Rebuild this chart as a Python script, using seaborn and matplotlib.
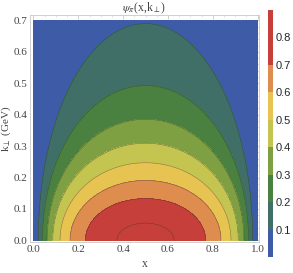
import matplotlib
matplotlib.use("Agg")
import matplotlib.pyplot as plt
import numpy as np
import seaborn as sns
from matplotlib.colors import ListedColormap, BoundaryNorm
from matplotlib.cm import ScalarMappable
from matplotlib.ticker import MultipleLocator

# pion wave function psi(x, k) = A u^p / (1 + (k^2 + m^2) / (beta^2 u))^n,  u = x(1-x)
# parameters matched to the contour positions of the reference
A_norm = 1.3544
p_pow = -0.0129
n_pow = 1.5006
m_sq = 0.045
beta_sq = 0.4394

levels = [0.1, 0.2, 0.3, 0.4, 0.5, 0.6, 0.7, 0.8]
band_colors = ["#3d5ba6", "#3f6f66", "#4a8040", "#7ea043", "#c3c550",
               "#e7c451", "#df8d4f", "#c73f3b", "#c73f3b"]
bar_range = [0.02, 0.9]
x_ticks = [0.0, 0.2, 0.4, 0.6, 0.8, 1.0]
k_ticks = [0.0, 0.1, 0.2, 0.3, 0.4, 0.5, 0.6, 0.7]


def psi_pi(x, k):
    u = x * (1 - x)
    return A_norm * u ** p_pow / (1 + (k ** 2 + m_sq) / (beta_sq * u)) ** n_pow


x = np.linspace(1e-4, 1 - 1e-4, 400)
k = np.linspace(0, 0.7, 300)
XX, KK = np.meshgrid(x, k)
psi = psi_pi(XX, KK)

sns.set_style("white")
plt.rcParams["mathtext.fontset"] = "stix"
serif = ["Liberation Serif", "DejaVu Serif"]
sans = ["Liberation Sans", "DejaVu Sans"]

fig = plt.figure(figsize=(2.93, 2.73), dpi=100)
ax = fig.add_axes([0.1024, 0.1136, 0.7816, 0.8315])
cax = fig.add_axes([0.9147, 0.0586, 0.017, 0.905])

ax.contourf(XX, KK, psi, levels=[0.0] + levels + [1.0], colors=band_colors)
ax.contour(XX, KK, psi, levels=levels, colors="#303030", linewidths=0.4, alpha=0.55)

ax.set_xlim(-0.0156, 1.0067)
ax.set_ylim(-0.005, 0.7175)
ax.set_xticks(x_ticks)
ax.set_yticks(k_ticks)
ax.xaxis.set_minor_locator(MultipleLocator(0.05))
ax.yaxis.set_minor_locator(MultipleLocator(0.02))
ax.set_xticklabels([f"{v:.1f}" for v in x_ticks], family=serif, fontsize=8, color="#444444")
ax.set_yticklabels([f"{v:.1f}" for v in k_ticks], family=serif, fontsize=8, color="#444444")
ax.tick_params(which="major", direction="in", length=3, width=0.5, color="#bbbbbb",
               top=True, right=True, pad=2)
ax.tick_params(which="minor", direction="in", length=1.5, width=0.4, color="#cccccc",
               top=True, right=True)
for s in ax.spines.values():
    s.set_color("#c8c8c8")
    s.set_linewidth(0.6)
ax.set_xlabel("x", family=serif, fontsize=8.5, color="#444444", labelpad=3)
ax.set_ylabel(r"k$_\perp$ (GeV)", family=serif, fontsize=8, color="#444444", labelpad=0.5)
ax.set_title(r"$\psi_\pi$(x,k$_\perp$)", family=serif, fontsize=8.5, color="#444444", pad=3)

bar_bounds = [bar_range[0]] + levels + [bar_range[1]]
sm = ScalarMappable(norm=BoundaryNorm(bar_bounds, len(band_colors)), cmap=ListedColormap(band_colors))
cb = fig.colorbar(sm, cax=cax, ticks=levels)
cb.outline.set_visible(False)
cb.ax.minorticks_off()
cb.ax.tick_params(which="both", length=0, labelsize=8, pad=2)
cb.ax.set_yticklabels([f"{v:.1f}" for v in levels], family=sans)

fig.savefig("out.png", dpi=100)
